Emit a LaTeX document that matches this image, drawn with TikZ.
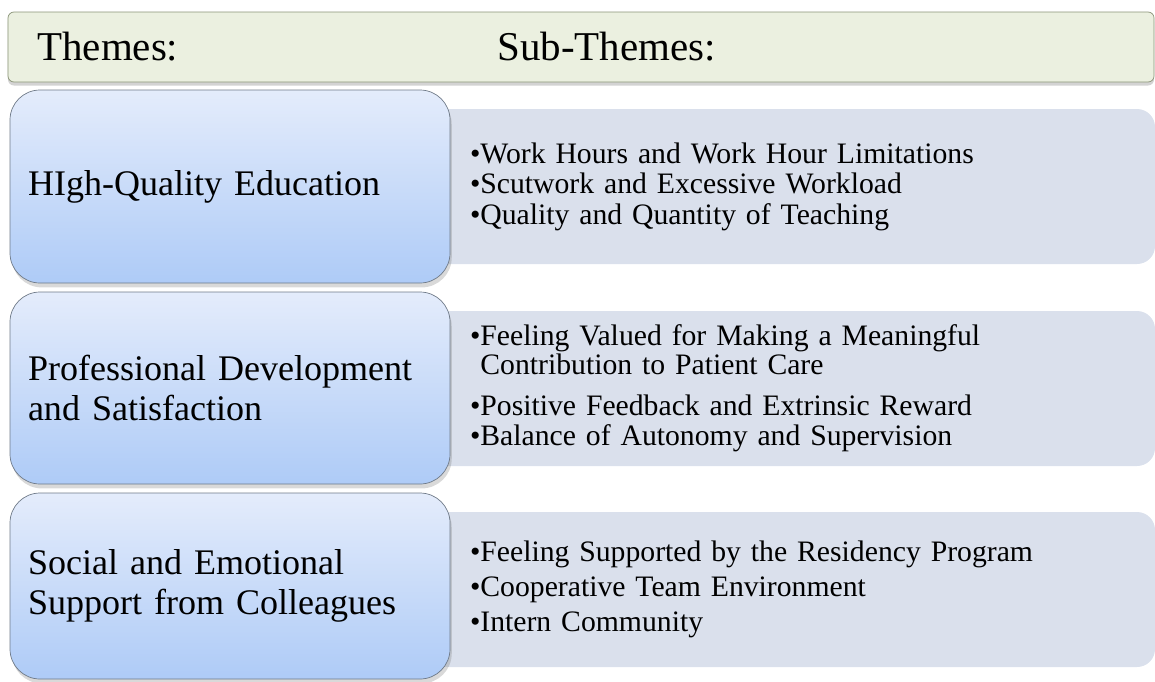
\documentclass[tikz,border=0pt]{standalone}
\usepackage{fontspec}
\setmainfont{Liberation Serif}
\usetikzlibrary{shadows}
\definecolor{headfill}{HTML}{EBF0E0}
\definecolor{headline}{HTML}{8A9478}
\definecolor{themetop}{HTML}{E4ECFB}
\definecolor{themebot}{HTML}{AECBF7}
\definecolor{themeline}{HTML}{6F7A88}
\definecolor{subfill}{HTML}{DAE0EC}
\begin{document}
\begin{tikzpicture}[
   header/.style={draw=headline,fill=headfill,rounded corners=0.12cm,
      minimum width=22.92cm,minimum height=1.4cm,
      drop shadow={shadow xshift=0pt,shadow yshift=-2pt,opacity=0.35}},
   title/.style={anchor=west,inner sep=0pt,font=\fontsize{23.3}{26}\selectfont},
   theme/.style={draw=themeline,top color=themetop,bottom color=themebot,
      rounded corners=0.6cm,minimum width=8.8cm,text width=8.08cm,
      inner xsep=0.36cm,align=left,font=\fontsize{20.5}{22.7}\selectfont,
      drop shadow={shadow xshift=1pt,shadow yshift=-2.5pt,opacity=0.3}},
   subtheme/.style={fill=subfill,rounded corners=0.36cm,minimum width=14.5cm,
      minimum height=3.1cm,text width=12.9cm,inner xsep=0.8cm,align=left,
      font={\fontsize{16.9}{20.1}\selectfont\lineskiplimit=-20pt}}]
\useasboundingbox (0,0) rectangle (23.1,-13.62);
\node[header] (head) at (11.62,-0.94) {};
\node[title] (themes) at (0.74,-0.94) {Themes:};
\node[title] (subthemes) at (9.94,-0.94) {Sub-Themes:};
% sub-themes behind the themes
\node[subtheme,font={\fontsize{16.9}{17.3}\selectfont\lineskiplimit=-20pt}] (s1) at (15.85,-3.73)
   {•Work Hours and Work Hour Limitations\\•Scutwork and Excessive Workload\\•Quality and Quantity of Teaching};
\node[subtheme,font={\fontsize{16.9}{16.5}\selectfont\lineskiplimit=-20pt}] (s2) at (15.85,-7.77)
   {•Feeling Valued for Making a Meaningful\\\phantom{•}Contribution to Patient Care\\[6.7pt]•Positive Feedback and Extrinsic Reward\\[0.5pt]•Balance of Autonomy and Supervision};
\node[subtheme] (s3) at (15.85,-11.79)
   {•Feeling Supported by the Residency Program\\•Cooperative Team Environment\\•Intern Community};
\foreach \k/\y/\h/\txt in {1/3.73/3.86/{HIgh-Quality Education},
      2/7.76/3.84/{Professional Development\\and Satisfaction},
      3/11.72/3.72/{Social and Emotional\\Support from Colleagues}}
   \node[theme,minimum height=\h cm] (t\k) at (4.6,-\y) {\txt};
\end{tikzpicture}
\end{document}
